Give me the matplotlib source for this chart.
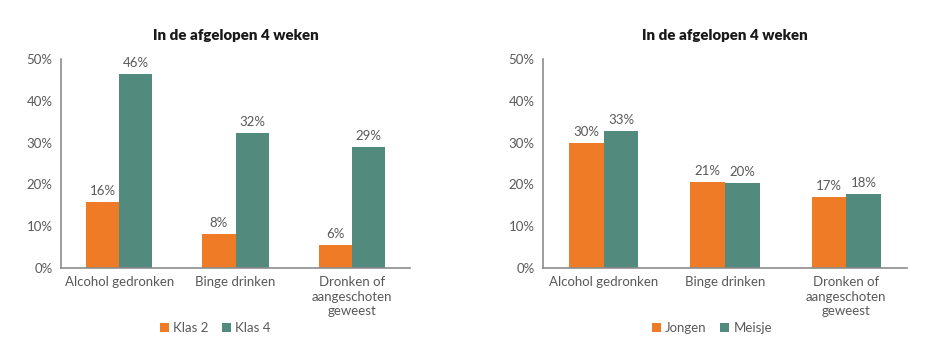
import matplotlib
matplotlib.use("Agg")
import matplotlib.pyplot as plt
import numpy as np

plt.rcParams['font.family'] = ['Lato', 'DejaVu Sans']

categories = ["Alcohol gedronken", "Binge drinken", "Dronken of\naangeschoten\ngeweest"]
title = "In de afgelopen 4 weken"

klas2 = [15.9, 8.2, 5.5]
klas4 = [46.3, 32.4, 28.9]
jongen = [29.9, 20.6, 17.0]
meisje = [32.8, 20.3, 17.6]

yticks = [0, 10, 20, 30, 40, 50]

ORANGE = "#F07B26"
TEAL = "#528A7E"
GRAY = "#595959"
AXIS = "#8C8C8C"

fig = plt.figure(figsize=(9.34, 3.55), dpi=100)

def draw(ax, s1, s2, names, cx):
    x = np.arange(len(categories))
    w = 0.285
    b1 = ax.bar(x - w/2, s1, w, color=ORANGE, label=names[0])
    b2 = ax.bar(x + w/2, s2, w, color=TEAL, label=names[1])
    for bars, vals in ((b1, s1), (b2, s2)):
        for b, v in zip(bars, vals):
            ax.text(b.get_x() + b.get_width()/2, v + 1.2, f"{round(v):d}%",
                    ha="center", va="bottom", fontsize=9.5, color=GRAY)
    ax.set_xlim(-0.5, len(categories) - 0.5)
    ax.set_ylim(0, 50)
    ax.set_yticks(yticks)
    ax.set_yticklabels([f"{t}%" for t in yticks])
    ax.set_xticks(x)
    ax.set_xticklabels(categories, linespacing=1.25)
    ax.tick_params(length=0, labelsize=9.5, colors=GRAY, pad=6)
    for s in ("top", "right"):
        ax.spines[s].set_visible(False)
    for s in ("left", "bottom"):
        ax.spines[s].set_color(AXIS)
        ax.spines[s].set_linewidth(1.2)
    ax.set_title(title, fontsize=10.8, fontweight="heavy", color="#1a1a1a", pad=14)
    fig.legend(handles=[b1, b2], labels=names, loc="center", bbox_to_anchor=(cx, 1 - 328/355),
               ncol=2, frameon=False, fontsize=9.5, handlelength=0.7, handleheight=0.7,
               handletextpad=0.3, columnspacing=1.0, labelcolor=GRAY)

ax1 = fig.add_axes([61/934, 1 - 268/355, 349/934, 209/355])
draw(ax1, klas2, klas4, ["Klas 2", "Klas 4"], 215/934)
ax2 = fig.add_axes([543/934, 1 - 268/355, 364/934, 209/355])
draw(ax2, jongen, meisje, ["Jongen", "Meisje"], 712/934)

fig.savefig("out.png", dpi=100)
